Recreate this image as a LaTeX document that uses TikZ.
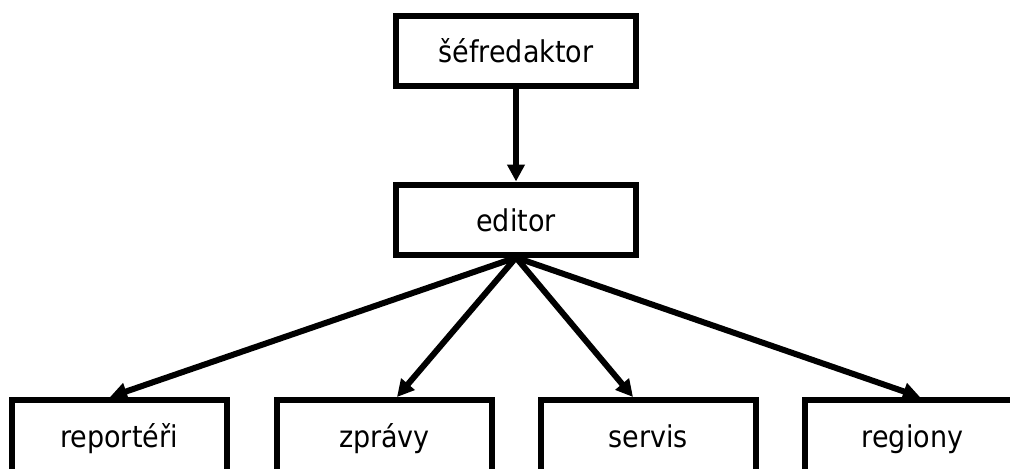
\documentclass[tikz,border=0pt]{standalone}
\usepackage{fontspec}
\setmainfont{DejaVu Sans Condensed}
\usetikzlibrary{arrows.meta,positioning}

\begin{document}
\begin{tikzpicture}[x=0.5pt,y=-0.5pt]

\tikzset{box/.style={
    draw, line width=3pt,
    minimum width=#1, minimum height=35pt,
    text height=11.5pt, text depth=0pt,
    inner sep=0pt,
    font=\fontsize{15}{18}\selectfont
  },
  box/.default=120pt,
  link/.style={-{Triangle[width=8.5pt,length=8.5pt]}, line width=3pt}
}

\clip (0,0) rectangle (1010,468);

\node[box] (sef) at (516,50.5) {šéfredaktor};
\node[box] (ed) at (516,219.5) {editor};

\node[box=107.5pt, minimum height=36pt] (rep) at (119,436) {reportéři};
\node[box=107.5pt, minimum height=36pt] (zpr) at (384.5,436) {zprávy};
\node[box=107.5pt, minimum height=36pt] (serv) at (648,436) {servis};
\node[box=107.5pt, minimum height=36pt] (reg) at (912.5,436) {regiony};

\draw [link] (sef) -- (ed);
\draw [link] (ed.south) -- ([xshift=-4.5pt]rep.north);
\draw [link] (ed.south) -- ([xshift=6.25pt]zpr.north);
\draw [link] (ed.south) -- ([xshift=-7.5pt]serv.north);
\draw [link] (ed.south) -- ([xshift=3.75pt]reg.north);

\end{tikzpicture}
\end{document}
